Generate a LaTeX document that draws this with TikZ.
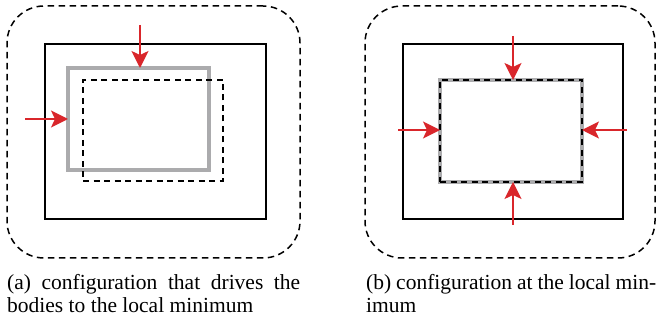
\documentclass[tikz,border=0pt]{standalone}
\usepackage{fontspec}
\setmainfont{Liberation Serif}
\usetikzlibrary{arrows.meta}
\definecolor{pushred}{HTML}{D9262B}
\definecolor{bodygray}{HTML}{ABABAD}
\tikzset{
  region/.style={draw=black, dash pattern=on 6.5pt off 4.5pt, line width=1.5pt,
    rounded corners=37pt, inner sep=0pt, outer sep=0pt},
  wall/.style={draw=black, line width=1.6pt, inner sep=0pt, outer sep=0pt},
  body/.style={draw=bodygray, line width=3.5pt, inner sep=0pt, outer sep=0pt},
  ghost/.style={draw=black, dash pattern=on 6pt off 4.5pt, line width=1.5pt,
    inner sep=0pt, outer sep=0pt},
  push/.style={draw=pushred, line width=1.6pt,
    -{Stealth[length=17pt, width=17pt, inset=4pt, fill=pushred]}},
  caption/.style={anchor=base west, inner sep=0pt,
    font=\fontsize{21.5pt}{22.5pt}\selectfont}
}
\begin{document}
\begin{tikzpicture}[x=1pt, y=-1pt]
  \useasboundingbox (0,0) rectangle (656,320);

  % (a) configuration that drives the bodies
  \node[region, minimum width=293pt, minimum height=252pt] (ra) at (153.5,132) {};
  \node[wall, minimum width=221pt, minimum height=175pt] (wa) at (155.5,131.5) {};
  \node[body, minimum width=141pt, minimum height=102pt] (ba) at (138.5,119) {};
  \node[ghost, minimum width=140pt, minimum height=101pt] (ga) at (153,130.5) {};
  \coordinate (ta) at (140,25);
  \coordinate (la) at (25,119);
  \draw[push] (ta) -- (ta |- ba.north);
  \draw[push] (la) -- (ba.west);

  % (b) configuration at the local minimum
  \node[region, minimum width=290pt, minimum height=252pt] (rb) at (510,132) {};
  \node[wall, minimum width=220pt, minimum height=175pt] (wb) at (513,131.5) {};
  \node[body, minimum width=142pt, minimum height=102pt] (bb) at (511,131) {};
  \node[ghost, minimum width=142pt, minimum height=102pt] (gb) at (511,131) {};
  \coordinate (tb) at (513,36);
  \coordinate (db) at (513,225);
  \coordinate (lb) at (398,130);
  \coordinate (rt) at (627,130);
  \draw[push] (tb) -- (tb |- bb.north);
  \draw[push] (db) -- (db |- bb.south);
  \draw[push] (lb) -- (lb -| bb.west);
  \draw[push] (rt) -- (rt -| bb.east);

  % captions
  \node[caption] (ca) at (7,290)
    {\parbox[t]{293pt}{(a) configuration that drives the\linebreak bodies to the local minimum}};
  \node[caption] (cb) at (366,290)
    {\parbox[t]{290pt}{(b) configuration at the local min-\linebreak imum}};
\end{tikzpicture}
\end{document}
